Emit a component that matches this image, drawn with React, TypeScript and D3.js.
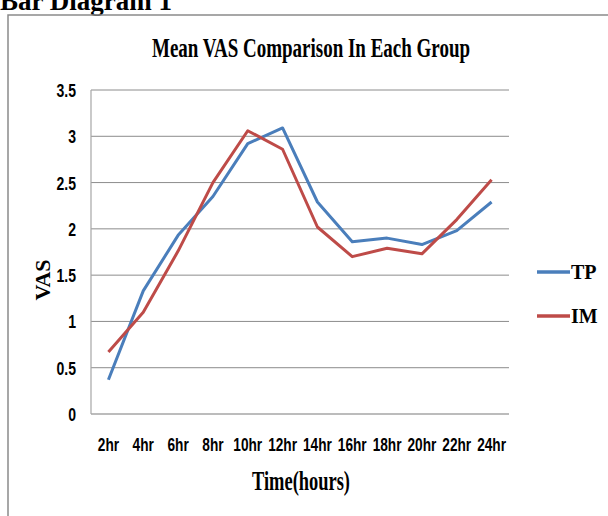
import React, { useRef, useEffect } from 'react';
import * as d3 from 'd3';

const hours = ['2hr', '4hr', '6hr', '8hr', '10hr', '12hr', '14hr', '16hr', '18hr', '20hr', '22hr', '24hr'];
const tpValues = [0.37, 1.33, 1.93, 2.35, 2.92, 3.09, 2.29, 1.86, 1.9, 1.83, 1.98, 2.29];
const imValues = [0.67, 1.1, 1.76, 2.5, 3.06, 2.86, 2.02, 1.7, 1.79, 1.73, 2.1, 2.53];
const yTicks = [0, 0.5, 1, 1.5, 2, 2.5, 3, 3.5];
const seriesNames = ['TP', 'IM'];
const seriesColors = ['#4a7ebb', '#be4b48'];

const App = () => {
  const svgRef = useRef<SVGSVGElement>(null);

  useEffect(() => {
    const svg = d3.select(svgRef.current);
    svg.selectAll('*').remove();

    const serif = '"Liberation Serif", "Times New Roman", serif';
    const sans = '"Liberation Sans", Arial, sans-serif';

    // heading above the frame (clipped at top in the source)
    svg.append('text')
      .attr('x', 0)
      .attr('y', 10)
      .attr('font-family', serif)
      .attr('font-weight', 'bold')
      .attr('font-size', 27)
      .text('Bar Diagram 1');

    // chart frame
    svg.append('path')
      .attr('d', 'M8,516 L8,15 L608,15')
      .attr('fill', 'none')
      .attr('stroke', '#8a8a8a')
      .attr('stroke-width', 1.5);

    const x = d3.scaleBand().domain(hours).range([91, 509]);
    const y = d3.scaleLinear().domain([0, 3.5]).range([414, 90]);

    // gridlines
    svg.append('g')
      .selectAll('line')
      .data(yTicks.filter(d => d > 0))
      .enter().append('line')
      .attr('x1', 91)
      .attr('x2', 509)
      .attr('y1', d => y(d))
      .attr('y2', d => y(d))
      .attr('stroke', '#8c8c8c')
      .attr('stroke-width', 1);

    // axes lines
    svg.append('line')
      .attr('x1', 91).attr('x2', 91).attr('y1', 90).attr('y2', 414)
      .attr('stroke', '#a6a6a6').attr('stroke-width', 1.2);
    svg.append('line')
      .attr('x1', 91).attr('x2', 509).attr('y1', 414).attr('y2', 414)
      .attr('stroke', '#a6a6a6').attr('stroke-width', 1.5);

    // y tick labels
    svg.append('g')
      .selectAll('text')
      .data(yTicks)
      .enter().append('text')
      .attr('transform', d => `translate(76,${y(d) + 7}) scale(0.78,1)`)
      .attr('text-anchor', 'end')
      .attr('font-family', sans)
      .attr('font-weight', 'bold')
      .attr('font-size', 18)
      .text(d => String(d));

    // x tick labels
    svg.append('g')
      .selectAll('text')
      .data(hours)
      .enter().append('text')
      .attr('transform', d => `translate(${(x(d) as number) + x.bandwidth() / 2},451) scale(0.76,1)`)
      .attr('text-anchor', 'middle')
      .attr('font-family', sans)
      .attr('font-weight', 'bold')
      .attr('font-size', 18)
      .text(d => d);

    // lines
    const line = d3.line<number>()
      .x((_, i) => (x(hours[i]) as number) + x.bandwidth() / 2)
      .y(d => y(d));

    [tpValues, imValues].forEach((vals, i) => {
      svg.append('path')
        .datum(vals)
        .attr('d', line)
        .attr('fill', 'none')
        .attr('stroke', seriesColors[i])
        .attr('stroke-width', 3)
        .attr('stroke-linejoin', 'round');
    });

    // title
    svg.append('text')
      .attr('x', 311)
      .attr('y', 57)
      .attr('text-anchor', 'middle')
      .attr('font-family', serif)
      .attr('font-weight', 'bold')
      .attr('font-size', 28)
      .attr('textLength', 318)
      .attr('lengthAdjust', 'spacingAndGlyphs')
      .text('Mean VAS Comparison In Each Group');

    // axis titles
    svg.append('text')
      .attr('transform', 'translate(50,280) rotate(-90)')
      .attr('text-anchor', 'middle')
      .attr('font-family', serif)
      .attr('font-weight', 'bold')
      .attr('font-size', 22)
      .text('VAS');

    svg.append('text')
      .attr('x', 301)
      .attr('y', 490)
      .attr('text-anchor', 'middle')
      .attr('font-family', serif)
      .attr('font-weight', 'bold')
      .attr('font-size', 28)
      .attr('textLength', 98)
      .attr('lengthAdjust', 'spacingAndGlyphs')
      .text('Time(hours)');

    // legend
    const legend = svg.append('g')
      .selectAll('g')
      .data(seriesNames)
      .enter().append('g')
      .attr('transform', (_, i) => `translate(537,${272 + i * 44})`);
    legend.append('line')
      .attr('x1', 0).attr('x2', 33).attr('y1', 0).attr('y2', 0)
      .attr('stroke', (_, i) => seriesColors[i])
      .attr('stroke-width', 3.5);
    legend.append('text')
      .attr('x', 34)
      .attr('y', 7)
      .attr('font-family', serif)
      .attr('font-weight', 'bold')
      .attr('font-size', 20)
      .text(d => d);
  }, []);

  return (
    <svg ref={svgRef} width={608} height={516}
      style={{ position: 'absolute', left: 0, top: 0, background: '#fff' }} />
  );
};

export default App;
